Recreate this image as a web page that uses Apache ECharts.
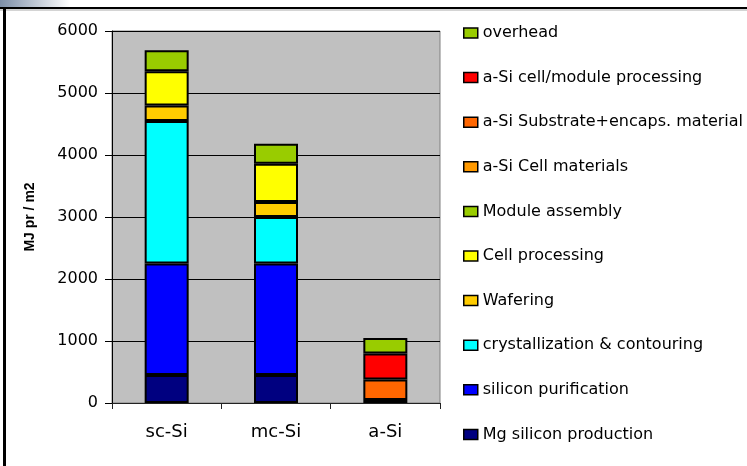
<!DOCTYPE html>
<html>
<head>
<meta charset="utf-8">
<title>Energy requirement per m2</title>
<script src="https://cdn.jsdelivr.net/npm/echarts@6/dist/echarts.min.js"></script>
<style>
  html, body { margin: 0; padding: 0; background: #fff; }
  #chart { width: 747px; height: 466px; }
</style>
</head>
<body>
<div id="chart"></div>
<script>
// 类别（横轴）
const categories = ['sc-Si', 'mc-Si', 'a-Si'];

// 纵轴刻度
const yTicks = [0, 1000, 2000, 3000, 4000, 5000, 6000];

// 各分项数值 (MJ pr / m2)，按堆叠顺序自下而上
const mgSilicon = [450, 450, null];
const siliconPurification = [1800, 1800, null];
const crystallization = [2300, 750, null];
const wafering = [250, 240, null];
const cellProcessing = [550, 620, null];
const moduleAssembly = [340, 320, null];
const aSiCellMaterials = [null, null, 50];
const aSiSubstrate = [null, null, 330];
const aSiCellModule = [null, null, 420];
const overhead = [null, null, 250];

// 系列定义：名称、数据、颜色
const seriesDefs = [
  { name: 'Mg silicon production', data: mgSilicon, color: '#000080' },
  { name: 'silicon purification', data: siliconPurification, color: '#0000FF' },
  { name: 'crystallization & contouring', data: crystallization, color: '#00FFFF' },
  { name: 'Wafering', data: wafering, color: '#FFCC00' },
  { name: 'Cell processing', data: cellProcessing, color: '#FFFF00' },
  { name: 'Module assembly', data: moduleAssembly, color: '#99CC00' },
  { name: 'a-Si Cell materials', data: aSiCellMaterials, color: '#FF9900' },
  { name: 'a-Si Substrate+encaps. material', data: aSiSubstrate, color: '#FF6600' },
  { name: 'a-Si cell/module processing', data: aSiCellModule, color: '#FF0000' },
  { name: 'overhead', data: overhead, color: '#99CC00' }
];

const FONT = '"DejaVu Sans", Arial, sans-serif';

const chart = echarts.init(document.getElementById('chart'), null, { renderer: 'canvas' });

const option = {
  backgroundColor: '#fff',
  animation: false,
  grid: {
    left: 112,
    top: 31,
    right: 307,
    bottom: 63,
    show: true,
    backgroundColor: '#C0C0C0',
    borderColor: '#808080',
    borderWidth: 1
  },
  // 图例：顺序与堆叠相反（最上面的在前）
  legend: {
    orient: 'vertical',
    left: 463,
    top: 25,
    padding: 0,
    itemWidth: 14,
    itemHeight: 10,
    itemGap: 28.6,
    icon: 'rect',
    selectedMode: false,
    itemStyle: { borderColor: '#000', borderWidth: 1.5 },
    textStyle: { fontFamily: FONT, fontSize: 16, color: '#000', lineHeight: 16 },
    data: seriesDefs.map(s => s.name).reverse()
  },
  xAxis: {
    type: 'category',
    data: categories,
    axisLine: { show: true, lineStyle: { color: '#222', width: 1 } },
    axisTick: { show: true, length: 6, alignWithLabel: false, lineStyle: { color: '#222' } },
    axisLabel: { fontFamily: FONT, fontSize: 18, color: '#000', margin: 20 },
    splitLine: { show: false }
  },
  yAxis: {
    type: 'value',
    min: yTicks[0],
    max: yTicks[yTicks.length - 1],
    interval: 1000,
    name: 'MJ pr / m2',
    nameLocation: 'middle',
    nameGap: 75,
    nameTextStyle: { fontFamily: 'Arial, "Liberation Sans", sans-serif', fontSize: 14, fontWeight: 'bold', color: '#000' },
    axisLine: { show: true, lineStyle: { color: '#000', width: 1 } },
    axisTick: { show: true, inside: false, length: 7, lineStyle: { color: '#000' } },
    axisLabel: { fontFamily: FONT, fontSize: 16, color: '#000', margin: 14, formatter: v => String(v) },
    splitLine: { show: true, lineStyle: { color: '#000', width: 1 } }
  },
  // 画面外框装饰
  graphic: [
    {
      type: 'rect',
      shape: { x: 0, y: 0, width: 70, height: 7 },
      style: {
        fill: new echarts.graphic.LinearGradient(0, 0, 1, 0, [
          { offset: 0, color: '#7d8fa8' },
          { offset: 1, color: '#ffffff' }
        ])
      },
      silent: true
    },
    { type: 'rect', shape: { x: 0, y: 7, width: 747, height: 2 }, style: { fill: '#000' }, silent: true },
    { type: 'rect', shape: { x: 0, y: 9.5, width: 747, height: 1 }, style: { fill: '#aaa' }, silent: true },
    { type: 'rect', shape: { x: 3, y: 7, width: 3, height: 459 }, style: { fill: '#000' }, silent: true }
  ],
  series: seriesDefs.map(s => ({
    name: s.name,
    type: 'bar',
    stack: 'total',
    barWidth: 44,
    data: s.data,
    itemStyle: { color: s.color, borderColor: '#000', borderWidth: 2 }
  }))
};

chart.setOption(option);
</script>
</body>
</html>
